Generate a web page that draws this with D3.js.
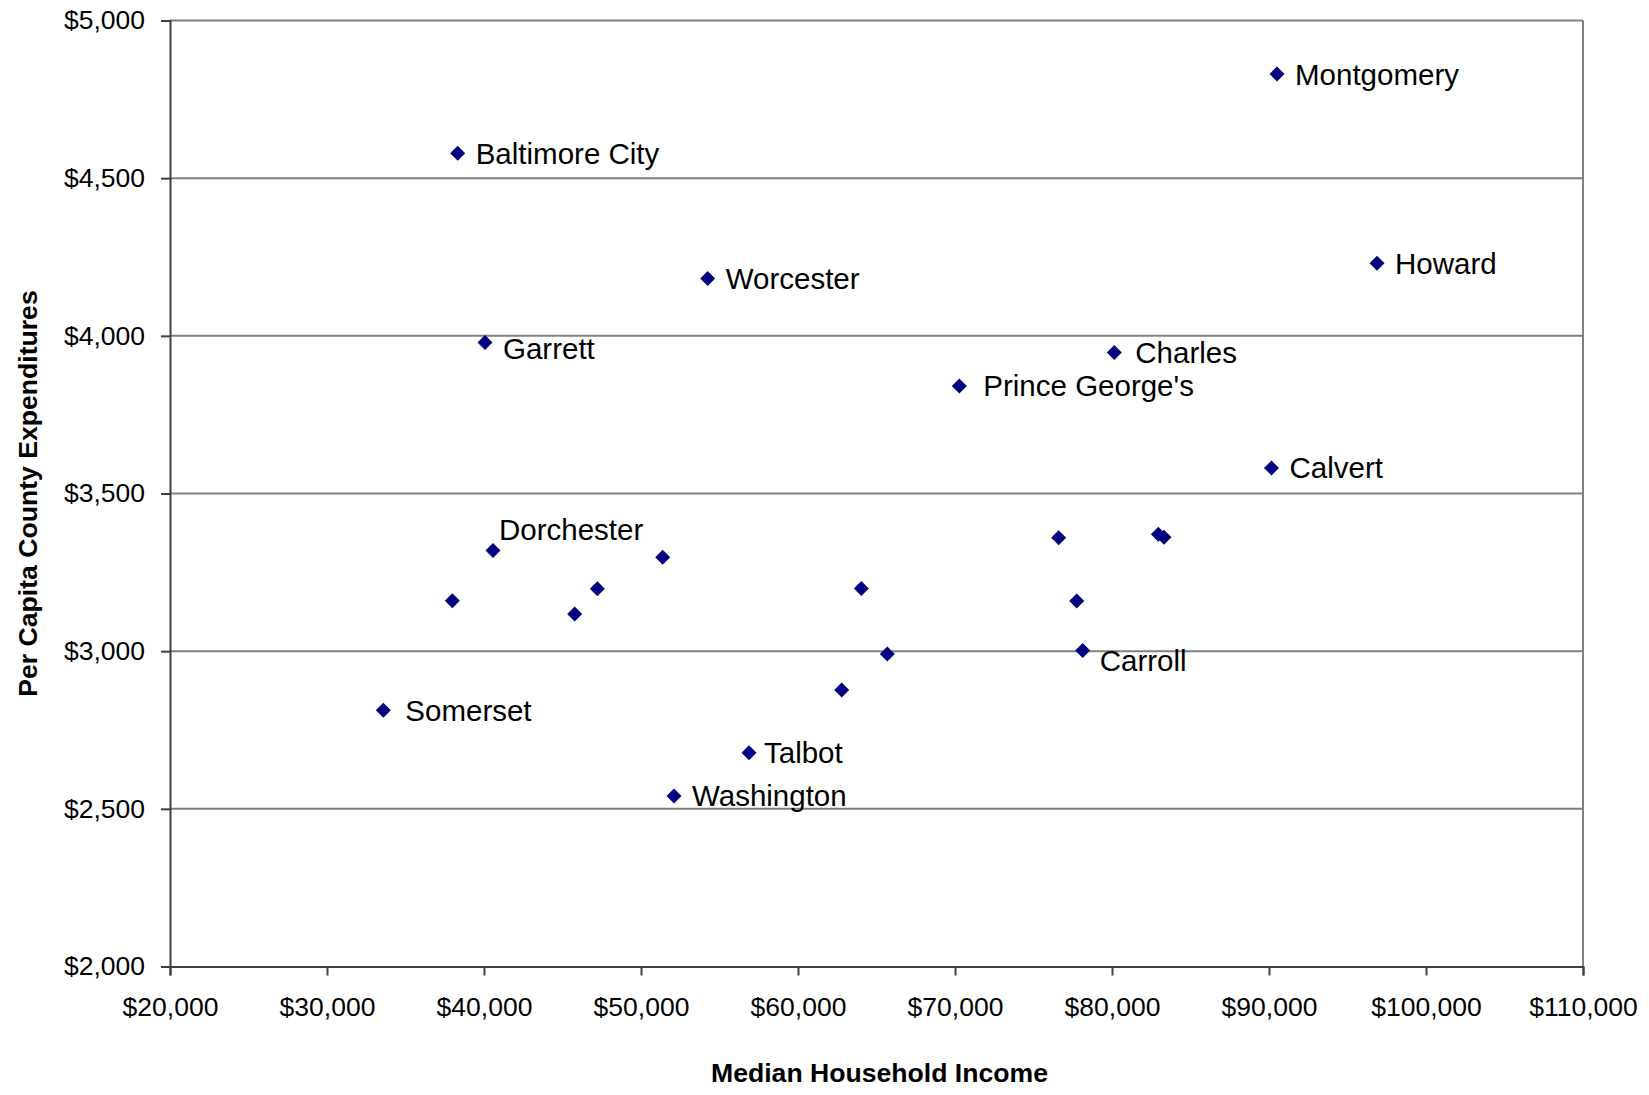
<!DOCTYPE html>
<html>
<head>
<meta charset="utf-8">
<script src="https://cdn.jsdelivr.net/npm/d3@7"></script>
<style>
  body { margin: 0; background: #fff; }
  text { font-family: "Liberation Sans", Arial, sans-serif; fill: #000; }
</style>
</head>
<body>
<svg id="chart" width="1649" height="1095"></svg>
<script>
// county names, median household income, per capita county expenditures
const counties = ["Montgomery", "Baltimore City", "Worcester", "Howard", "Garrett", "Charles",
  "Prince George's", "Calvert", "Dorchester", "", "", "", "", "", "", "", "", "", "Carroll",
  "", "", "Somerset", "Talbot", "Washington"];
const income = [90510, 38325, 54248, 96879, 40064, 80146,
  70275, 90159, 40573, 37981, 45777, 47217, 51381, 64032, 65689, 62783, 76605, 77752, 78134,
  82951, 83312, 33588, 56879, 52102];
const expenditure = [4830, 4579, 4182, 4230, 3979, 3947,
  3841, 3581, 3319, 3160, 3118, 3198, 3298, 3199, 2991, 2877, 3360, 3159, 3002,
  3371, 3361, 2813, 2678, 2541];
const xTicks = [20000, 30000, 40000, 50000, 60000, 70000, 80000, 90000, 100000, 110000];
const yTicks = [2000, 2500, 3000, 3500, 4000, 4500, 5000];

const svg = d3.select("#chart");
const margins = {top: 20.5, right: 66, bottom: 128.5, left: 170};
const chartWidth = svg.attr("width") - margins.left - margins.right;
const chartHeight = svg.attr("height") - margins.top - margins.bottom;

const scaleX = d3.scaleLinear().domain([20000, 110000]).range([0, chartWidth]);
const scaleY = d3.scaleLinear().domain([2000, 5000]).range([chartHeight, 0]);
const fmt = d => "$" + d3.format(",")(d);

const chart = svg.append("g").attr("transform", `translate(${margins.left},${margins.top})`);

// gridlines
chart.append("g")
  .selectAll("line")
  .data(yTicks.filter(d => d > 2000))
  .join("line")
  .attr("x1", 0).attr("x2", chartWidth)
  .attr("y1", d => scaleY(d)).attr("y2", d => scaleY(d))
  .attr("stroke", "#808080").attr("stroke-width", 2);
// frame right side
chart.append("line")
  .attr("x1", chartWidth).attr("x2", chartWidth)
  .attr("y1", 0).attr("y2", chartHeight)
  .attr("stroke", "#808080").attr("stroke-width", 2);

// axes
const leftAxis = d3.axisLeft(scaleY).tickValues(yTicks).tickFormat(fmt).tickSize(9).tickPadding(16);
const yAxis = chart.append("g").call(leftAxis);
const bottomAxis = d3.axisBottom(scaleX).tickValues(xTicks).tickFormat(fmt).tickSize(9).tickPadding(22);
const xAxis = chart.append("g").attr("transform", `translate(0,${chartHeight})`).call(bottomAxis);
[yAxis, xAxis].forEach(a => {
  a.select(".domain").attr("stroke", "#404040").attr("stroke-width", 2);
  a.selectAll(".tick line").attr("stroke", "#404040").attr("stroke-width", 2);
  a.selectAll("text").attr("font-size", 26.5).attr("font-family", "Liberation Sans, Arial, sans-serif").attr("fill", "#000");
});

// points
const idx = d3.range(counties.length);
chart.append("g")
  .selectAll("path")
  .data(idx)
  .join("path")
  .attr("d", "M0,-7.5L7.5,0L0,7.5L-7.5,0Z")
  .attr("fill", "#000080")
  .attr("transform", i => `translate(${scaleX(income[i])},${scaleY(expenditure[i])})`);

// label placement tweaks (px)
const labelShift = {"Dorchester": [6, -21], "Carroll": [17, 10], "Talbot": [15, 0],
  "Garrett": [18, 6], "Charles": [21, 0], "Prince George's": [24, 0], "Somerset": [22, 0]};
chart.append("g")
  .selectAll("text")
  .data(idx.filter(i => counties[i] !== ""))
  .join("text")
  .attr("x", i => scaleX(income[i]) + (labelShift[counties[i]] ? labelShift[counties[i]][0] : 18))
  .attr("y", i => scaleY(expenditure[i]) + (labelShift[counties[i]] ? labelShift[counties[i]][1] : 0))
  .attr("dominant-baseline", "central")
  .attr("font-size", 29.5)
  .text(i => counties[i]);

// axis titles
svg.append("text")
  .attr("x", margins.left + chartWidth / 2 + 3)
  .attr("y", 1082)
  .attr("text-anchor", "middle")
  .attr("font-size", 26.6)
  .attr("font-weight", "bold")
  .text("Median Household Income");
svg.append("text")
  .attr("transform", `translate(37,${margins.top + chartHeight / 2}) rotate(-90)`)
  .attr("text-anchor", "middle")
  .attr("font-size", 26.6)
  .attr("font-weight", "bold")
  .text("Per Capita County Expenditures");
</script>
</body>
</html>
